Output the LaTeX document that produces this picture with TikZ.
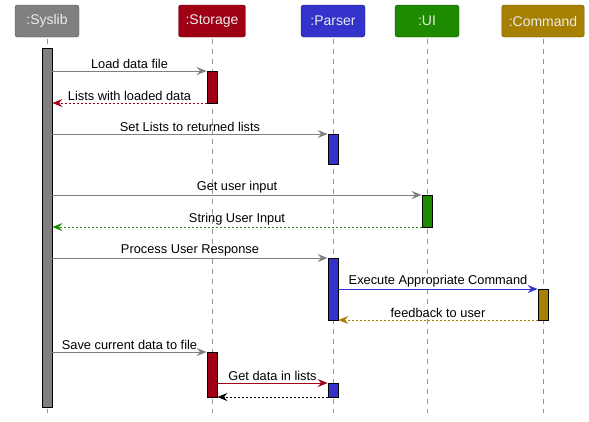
\documentclass[tikz,border=0pt]{standalone}
\usepackage{fontspec}
\setmainfont{Liberation Sans}
\usetikzlibrary{arrows.meta}

\definecolor{syscol}{HTML}{808080}
\definecolor{stocol}{HTML}{A00016}
\definecolor{parcol}{HTML}{3333CC}
\definecolor{uicol}{HTML}{1D8A00}
\definecolor{cmdcol}{HTML}{A68000}
\definecolor{linecol}{HTML}{959595}

\tikzset{
  head/.style={rounded corners=2.5pt, fill=#1, draw=#1!60!black, text=white!92!black,
    minimum width=64pt, minimum height=32pt, inner xsep=7pt,
    font=\fontsize{14}{16}\selectfont},
  life/.style={linecol, line width=0.8pt, dash pattern=on 5pt off 5pt},
  actbar/.style={fill=#1, draw=black, line width=0.8pt, minimum width=10pt,
    inner sep=0pt},
  msg/.style={draw=#1, line width=0.9pt,
    -{Stealth[length=10pt, width=8pt, inset=3.5pt, #1]}},
  ret/.style={msg=#1, dash pattern=on 2pt off 2pt},
  lbl/.style={above, inner sep=1.5pt, font=\fontsize{12.8}{14}\selectfont}
}

\begin{document}
\begin{tikzpicture}[x=1pt, y=-1pt]
  \useasboundingbox (0,0) rectangle (589,421);
  % participants
  \node[head=syscol] (syslib) at (47,21) {:Syslib};
  \node[head=stocol] (storage) at (212,21) {:Storage};
  \node[head=parcol] (parser) at (333,21) {:Parser};
  \node[head=uicol] (ui) at (427,21) {:UI};
  \node[head=cmdcol] (command) at (543,21) {:Command};
  % lifelines
  \coordinate (bottom) at (0,413);
  \draw[life] ([yshift=-2pt]syslib.south) -- (syslib.south |- bottom);
  \draw[life] ([yshift=-2pt]storage.south) -- (storage.south |- bottom);
  \draw[life] ([yshift=-2pt]parser.south) -- (parser.south |- bottom);
  \draw[life] ([yshift=-2pt]ui.south) -- (ui.south |- bottom);
  \draw[life] ([yshift=-2pt]command.south) -- (command.south |- bottom);
  % activations
  \node[actbar=syscol, minimum height=359pt] (sysact) at (47,227.5) {};
  \node[actbar=stocol, minimum height=32pt] (stoact1) at (212,87) {};
  \node[actbar=parcol, minimum height=30pt] (paract1) at (333,149) {};
  \node[actbar=uicol, minimum height=32pt] (uiact) at (427,211) {};
  \node[actbar=parcol, minimum height=62pt] (paract2) at (333,289) {};
  \node[actbar=cmdcol, minimum height=31pt] (cmdact) at (543,304.5) {};
  \node[actbar=stocol, minimum height=45pt] (stoact2) at (212,374.5) {};
  \node[actbar=parcol, minimum height=14pt] (paract3) at (333,390) {};
  % message rows
  \coordinate (m1) at (0,71);
  \coordinate (m2) at (0,103);
  \coordinate (m3) at (0,134);
  \coordinate (m4) at (0,195);
  \coordinate (m5) at (0,227);
  \coordinate (m6) at (0,258);
  \coordinate (m7) at (0,289);
  \coordinate (m8) at (0,320);
  \coordinate (m9) at (0,352);
  \coordinate (m10) at (0,383);
  \coordinate (m11) at (0,397);
  % messages
  \draw[msg=syscol] (sysact.east |- m1) -- node[lbl] {Load data file} (stoact1.west |- m1);
  \draw[ret=stocol] (stoact1.west |- m2) -- node[lbl] {Lists with loaded data} (sysact.east |- m2);
  \draw[msg=syscol] (sysact.east |- m3) -- node[lbl] {Set Lists to returned lists} (paract1.west |- m3);
  \draw[msg=syscol] (sysact.east |- m4) -- node[lbl] {Get user input} (uiact.west |- m4);
  \draw[ret=uicol] (uiact.west |- m5) -- node[lbl] {String User Input} (sysact.east |- m5);
  \draw[msg=syscol] (sysact.east |- m6) -- node[lbl] {Process User Response} (paract2.west |- m6);
  \draw[msg=parcol] (paract2.east |- m7) -- node[lbl] {Execute Appropriate Command} (cmdact.west |- m7);
  \draw[ret=cmdcol] (cmdact.west |- m8) -- node[lbl] {feedback to user} (paract2.east |- m8);
  \draw[msg=syscol] (sysact.east |- m9) -- node[lbl] {Save current data to file} (stoact2.west |- m9);
  \draw[msg=stocol] (stoact2.east |- m10) -- node[lbl] {Get data in lists} (paract3.west |- m10);
  \draw[ret=black] (paract3.west |- m11) -- (stoact2.east |- m11);
\end{tikzpicture}
\end{document}
